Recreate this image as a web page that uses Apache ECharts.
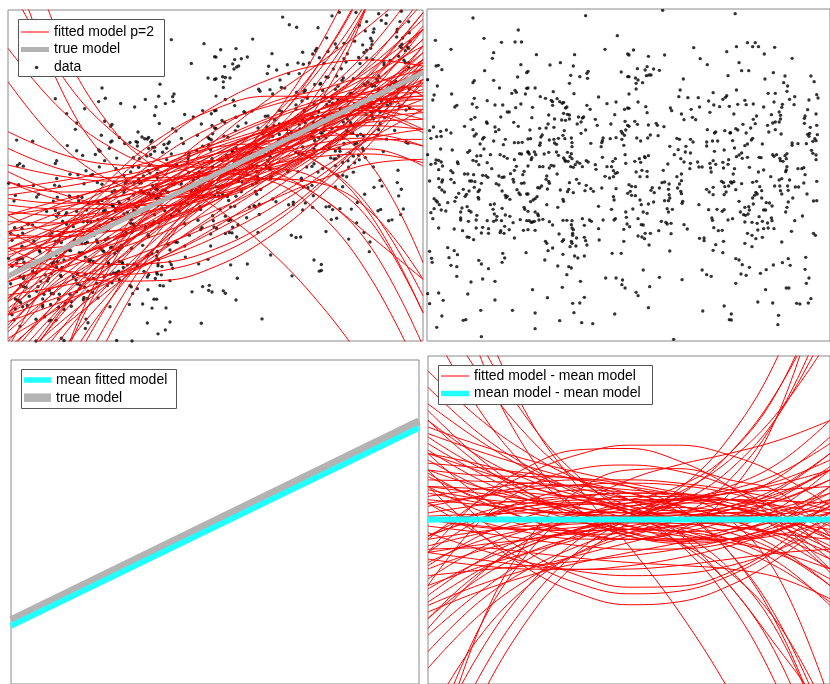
<!DOCTYPE html>
<html><head><meta charset="utf-8">
<script src="https://cdn.jsdelivr.net/npm/echarts@6/dist/echarts.min.js"></script>
<style>html,body{margin:0;padding:0;background:#fff}#c{width:830px;height:684px}</style>
</head><body><div id="c"></div>
<script>
// x domain ends (arbitrary units) and straight models read at both ends
const xEnds = [0, 1245];
const trueModel = [195, 805];
const meanModel = [178, 785];

// sample x positions of fitted curves and their residuals (fitted - mean)
const fitX = [0, 156, 311, 467, 622, 778, 934, 1089, 1245];
const fitResid = [
[300,193,120,71,40,26,30,58,120],[250,159,100,60,30,4,-20,-43,-60],[-250,-155,-80,-29,0,13,20,36,80],
[-300,-180,-100,-51,-20,5,40,99,200],[200,168,130,94,60,25,-20,-89,-200],[150,99,60,34,20,21,40,81,150],
[-150,-96,-60,-38,-30,-36,-60,-106,-180],[100,93,80,68,60,63,80,118,180],[-100,-121,-140,-151,-150,-139,-120,-101,-90],
[350,241,150,77,20,-29,-80,-148,-250],[-350,-222,-120,-44,10,53,100,173,300],[60,45,30,18,10,5,0,-9,-30],
[-60,-37,-20,-8,0,5,10,17,30],[180,100,40,-6,-40,-60,-60,-31,40],[-180,-89,-30,11,40,58,60,33,-40],
[120,116,110,101,90,76,60,41,20],[-120,-139,-150,-151,-140,-116,-80,-34,20],[400,262,160,84,30,-3,-10,19,100],
[-400,-251,-150,-80,-30,4,20,7,-50],[20,43,60,73,80,78,60,18,-60],[-20,-39,-60,-79,-90,-89,-70,-29,40],
[230,142,70,16,-20,-36,-30,-2,50],[-230,-126,-50,1,30,36,20,-21,-90],[80,51,20,-7,-30,-49,-70,-100,-150],
[-80,-43,-10,18,40,59,80,108,150],[280,226,180,142,110,81,50,9,-50],[-280,-219,-170,-131,-100,-71,-40,1,60],
[140,59,0,-39,-60,-59,-30,36,150],[-140,-51,10,49,70,69,40,-31,-160],[40,68,90,105,110,103,80,40,-20],
[-40,-90,-130,-157,-170,-165,-140,-90,-10],[330,188,80,1,-50,-72,-60,-6,100],[-330,-170,-60,11,50,60,40,-17,-120],
[170,157,140,121,100,74,40,-9,-80],[-170,-154,-140,-126,-110,-89,-60,-19,40],[90,63,50,46,50,63,90,141,230],
[-90,-86,-100,-117,-130,-139,-150,-177,-240],[210,122,60,20,0,2,30,92,200],[-210,-129,-70,-30,-10,-12,-40,-100,-200],
[10,16,20,21,20,16,10,4,0],[260,207,160,118,80,42,0,-52,-120],[-260,-199,-150,-108,-70,-32,10,59,120],
[70,92,110,120,120,110,90,62,30],[-50,3,40,59,60,41,0,-63,-150],[50,-4,-40,-59,-60,-41,0,66,160],
[450,308,200,119,60,21,0,-1,20],[-450,-292,-180,-102,-50,-17,0,3,-10],[130,66,30,13,10,24,60,130,250],
[-130,-66,-30,-13,-10,-23,-60,-133,-260],[0,-19,-30,-34,-30,-19,0,26,60],[-100,58,160,211,215,177,100,-10,-150],
[-60,55,140,197,225,225,195,134,40],[100,-39,-150,-224,-258,-249,-200,-114,0],[50,-43,-130,-194,-225,-217,-170,-88,20],
[150,6,-100,-170,-205,-202,-160,-74,60],[-200,-10,100,153,165,146,100,21,-100],[-100,-77,-60,-39,0,73,200,401,700],
[-200,-145,-100,-57,0,93,250,505,900],[0,-23,-30,-23,0,52,150,322,600],[100,28,-20,-45,-40,8,120,323,650],
[-300,-163,-80,-27,20,82,180,331,550],[200,74,0,-44,-60,-31,80,331,800],[-50,1,30,45,60,101,200,400,750],
[100,80,60,37,0,-70,-200,-428,-800],[200,148,100,60,20,-40,-150,-352,-700],[0,13,40,51,20,-74,-250,-522,-900],
[-100,-2,60,89,80,23,-100,-314,-650],[300,169,80,23,-20,-71,-160,-322,-600],[50,70,100,104,60,-43,-200,-396,-600],
[150,134,130,125,100,34,-100,-333,-700],[-50,19,50,69,80,69,0,-181,-550],[900,550,300,129,20,-40,-60,-46,0],
[700,443,250,119,40,0,-20,-44,-100],[-800,-481,-250,-94,0,46,60,56,50],[-700,-410,-200,-60,20,50,40,0,-60],
[1000,508,200,28,-50,-65,-40,10,80],[600,336,150,29,-40,-66,-60,-29,20],[-600,-360,-200,-100,-40,-3,30,75,150],
[-900,-555,-300,-123,-10,52,80,90,100],[1200,650,310,95,-80,-280,-520,-800,-1100],[-700,-334,-100,41,120,166,200,241,300],
[-800,-338,-60,89,150,154,120,81,-50]
];

// data points: [x, residual from true model]
const residualPoints = [
[142,462],[282,426],[26,395],[176,401],[230,389],[272,390],[292,390],[74,368],[206,358],[202,341],[290,322],[28,318],[35,320],[46,307],[178,304],[308,298],[2,277],[280,285],[206,275],[146,274],[142,268],[32,258],[224,252],[308,251],[272,245],[276,239],[262,236],[304,234],[22,231],[76,234],[18,216],[146,221],[186,214],[140,204],[92,200],[86,195],[154,194],[210,201],[234,201],[290,204],[274,193],[248,180],[254,180],[228,165],[148,164],[136,158],[184,150],[268,149],[282,137],[186,146],[20,135],[8,124],[60,126],[74,117],[42,122],[116,137],[142,127],[210,135],[222,127],[212,121],[152,114],[146,108],[30,106],[44,107],[12,101],[176,104],[172,99],[270,88],[282,88],[294,89],[242,98],[236,82],[206,93],[164,84],[132,64],[126,59],[78,66],[176,69],[42,69],[2,52],[196,52],[226,52],[238,47],[248,41],[286,55],[292,54],[312,60],[154,48],[166,49],[142,35],[152,32],[160,22],[36,35],[44,30],[28,36],[12,23],[26,26],[48,18],[94,30],[96,25],[186,28],[270,37],[276,17],[36,7],[74,4],[80,-2],[116,-6],[126,-6],[144,-8],[200,10],[258,-5],[270,5],[300,2],[296,-8],[172,-10],[182,-11],[188,-16],[222,-12],[232,-16],[238,-15],[8,-27],[36,-20],[48,-24],[46,-30],[74,-22],[84,-32],[132,-27],[138,-27],[148,-29],[168,-34],[266,-22],[268,-30],[292,-34],[300,-33],[214,-35],[222,-39],[38,-46],[46,-54],[54,-60],[112,-52],[130,-57],[146,-46],[162,-54],[158,-59],[232,-57],[278,-53],[284,-63],[288,-68],[242,-70],[248,-73],[244,-77],[256,-82],[308,-66],[98,-64],[90,-76],[86,-88],[122,-67],[118,-73],[158,-76],[160,-81],[22,-80],[28,-86],[32,-90],[38,-98],[64,-92],[196,-98],[208,-96],[204,-112],[232,-109],[300,-106],[302,-112],[22,-110],[12,-122],[44,-114],[58,-117],[108,-108],[104,-120],[124,-104],[130,-116],[136,-120],[154,-130],[208,-126],[216,-133],[242,-129],[256,-133],[18,-140],[104,-138],[104,-144],[128,-148],[152,-144],[186,-146],[214,-144],[206,-148],[230,-146],[288,-143],[308,-146],[266,-152],[240,-163],[254,-173],[152,-168],[172,-166],[190,-170],[228,-176],[238,-184],[226,-182],[298,-175],[36,-168],[84,-171],[110,-176],[168,-183],[190,-184],[270,-198],[124,-195],[130,-196],[144,-203],[8,-238],[14,-259],[16,-271],[64,-227],[84,-236],[94,-248],[68,-257],[234,-244],[240,-258],[232,-271],[306,-242],[160,-265],[168,-276],[74,-280],[92,-284],[190,-290],[92,-313],[136,-330],[172,-321],[210,-328],[2,-365],[36,-363],[8,-395],[50,-385],[126,-366],[210,-384],[166,-415],[264,-415],[46,-432],[112,-445],[120,-443],[30,-466],[168,-494],
[490,469],[588,409],[550,368],[338,352],[456,352],[620,354],[380,321],[412,328],[452,318],[312,302],[498,302],[494,296],[444,290],[472,286],[496,281],[600,300],[620,286],[440,266],[334,252],[312,252],[390,241],[454,235],[350,226],[366,221],[384,215],[388,211],[402,220],[410,211],[418,206],[422,209],[432,195],[428,192],[388,200],[530,225],[556,205],[584,210],[326,194],[494,200],[504,188],[610,188],[620,192],[422,176],[434,173],[440,171],[440,159],[376,171],[394,159],[374,144],[428,155],[416,156],[324,163],[468,165],[480,162],[484,165],[464,144],[476,150],[520,158],[526,140],[568,144],[580,172],[612,152],[620,140],[318,126],[348,131],[368,132],[392,134],[424,124],[476,116],[490,126],[600,122],[604,116],[610,110],[614,126],[356,111],[352,105],[312,99],[320,100],[420,110],[426,100],[446,102],[544,102],[542,94],[566,100],[540,88],[584,103],[602,98],[608,80],[350,87],[348,80],[378,96],[392,98],[394,87],[406,101],[400,83],[448,88],[448,76],[506,86],[538,76],[312,60],[316,54],[322,37],[324,43],[332,60],[336,52],[362,54],[376,59],[400,60],[406,50],[434,59],[446,55],[442,46],[422,42],[426,36],[428,32],[436,32],[448,40],[472,26],[464,30],[492,34],[498,30],[458,22],[520,22],[542,44],[582,40],[574,32],[612,52],[312,18],[348,16],[358,16],[384,20],[392,18],[402,-6],[378,12],[444,16],[452,14],[480,16],[522,8],[556,16],[570,16],[576,4],[582,-4],[588,-2],[614,26],[550,-13],[564,-18],[576,-14],[370,-12],[368,-22],[376,-28],[378,-34],[348,-48],[342,-47],[354,-42],[372,-51],[412,-54],[434,-59],[438,-52],[440,-32],[462,-22],[470,-34],[492,-40],[506,-50],[514,-58],[488,-56],[452,-62],[540,-48],[584,-50],[620,-64],[312,-66],[320,-89],[328,-84],[334,-80],[340,-74],[420,-82],[422,-88],[370,-98],[404,-106],[530,-103],[576,-74],[578,-84],[570,-112],[614,-120],[616,-136],[312,-118],[334,-120],[342,-126],[344,-131],[316,-146],[322,-151],[326,-150],[332,-148],[346,-144],[358,-142],[312,-173],[334,-175],[378,-149],[388,-159],[420,-145],[432,-145],[448,-146],[446,-158],[448,-168],[452,-173],[486,-160],[480,-140],[502,-144],[508,-148],[544,-144],[578,-144],[582,-140],[618,-156],[608,-172],[530,-170],[450,-184],[450,-190],[408,-186],[462,-198],[446,-208],[448,-214],[460,-222],[418,-208],[422,-203],[486,-196],[490,-206],[494,-219],[532,-204],[608,-208],[366,-208],[370,-214],[374,-236],[388,-228],[364,-264],[420,-247],[442,-224],[456,-252],[466,-258],[486,-252],[572,-244],[600,-244],[404,-282],[438,-284],[446,-288],[432,-308],[552,-318],[584,-318],[604,-324],[602,-338],[612,-348],[474,-328],[326,-353],[418,-346],[372,-377],[486,-376],[450,-394],[472,-393],[334,-423],[454,-422],[410,-446],[478,-452],[512,-455],[580,-426],[334,-470],
[728,485],[638,366],[624,351],[684,347],[734,351],[824,373],[926,361],[844,340],[866,322],[650,310],[674,306],[680,316],[700,309],[718,305],[678,289],[686,291],[692,291],[624,286],[644,282],[646,266],[646,249],[624,234],[652,276],[666,268],[792,279],[782,246],[930,289],[778,226],[806,223],[838,223],[870,213],[884,238],[886,201],[904,196],[914,218],[922,224],[926,229],[934,197],[652,210],[676,196],[680,178],[752,192],[756,184],[786,174],[794,157],[816,188],[820,164],[830,157],[842,195],[874,179],[624,191],[624,137],[642,152],[650,143],[684,141],[708,146],[712,140],[732,136],[866,127],[888,117],[892,120],[920,124],[936,117],[648,102],[660,93],[682,102],[690,111],[714,109],[772,101],[780,98],[814,98],[822,90],[864,90],[864,78],[882,93],[898,93],[750,77],[776,67],[800,77],[888,62],[918,66],[642,32],[656,40],[660,29],[672,46],[684,49],[674,43],[764,52],[784,40],[798,60],[814,57],[794,30],[814,26],[812,10],[836,30],[840,15],[850,15],[874,26],[884,34],[876,12],[892,23],[878,0],[914,29],[916,12],[932,37],[930,23],[646,0],[664,5],[680,2],[730,5],[658,-14],[680,-14],[744,24],[772,-14],[786,-6],[624,-38],[632,-43],[644,-44],[628,-58],[632,-70],[644,-71],[658,-84],[696,-47],[692,-55],[702,-62],[718,-48],[726,-32],[734,-30],[748,-36],[746,-52],[748,-68],[774,-48],[780,-36],[786,-26],[784,-58],[786,-65],[864,-52],[872,-60],[884,-46],[884,-68],[910,-28],[916,-32],[920,-44],[924,-60],[918,-68],[932,-42],[662,-98],[684,-96],[700,-90],[734,-86],[746,-86],[750,-78],[790,-88],[788,-94],[668,-120],[636,-111],[680,-124],[742,-110],[746,-120],[758,-112],[840,-98],[870,-113],[896,-112],[912,-118],[918,-113],[880,-138],[882,-145],[652,-140],[662,-158],[668,-159],[724,-148],[738,-151],[742,-156],[754,-154],[794,-158],[804,-171],[930,-144],[626,-164],[652,-192],[664,-195],[672,-200],[674,-184],[690,-184],[716,-176],[754,-185],[886,-167],[900,-176],[912,-175],[686,-219],[842,-199],[856,-198],[856,-206],[892,-218],[884,-235],[916,-208],[914,-242],[750,-237],[668,-294],[718,-316],[788,-323],[850,-294],[864,-308],[878,-313],[646,-361],[652,-371],[688,-344],[684,-407],[852,-417],[918,-402],[934,-443],[762,-502],
[952,475],[956,376],[990,388],[1006,376],[1014,388],[1024,376],[1074,374],[1042,354],[1128,341],[964,328],[972,304],[994,304],[1070,298],[1044,279],[1106,288],[1102,268],[1114,258],[1186,288],[1196,271],[956,246],[1112,242],[1076,236],[1054,236],[1120,218],[1136,226],[1180,216],[1204,232],[1208,222],[960,203],[982,215],[986,202],[1008,204],[1040,195],[1098,203],[1096,194],[1134,202],[1072,210],[948,174],[1008,158],[1018,168],[1064,172],[1088,180],[1092,170],[1092,159],[1168,168],[1166,161],[1202,174],[1176,187],[954,130],[960,126],[938,118],[976,143],[986,117],[1000,132],[1014,145],[1052,140],[1056,120],[1068,147],[1076,150],[1076,127],[1088,150],[1094,114],[1166,146],[1184,134],[1182,116],[1180,107],[1176,113],[1204,140],[1206,112],[944,94],[982,79],[990,84],[1002,96],[1006,101],[1036,84],[1128,87],[1128,80],[1146,85],[1172,85],[1192,92],[1198,100],[1202,94],[950,72],[964,51],[974,41],[956,46],[990,44],[972,57],[1026,44],[1032,43],[1068,52],[1072,47],[1080,52],[1090,41],[1092,34],[1100,32],[1112,55],[1106,49],[1110,40],[1188,65],[1192,56],[1202,51],[1202,37],[1146,10],[1158,10],[1164,13],[1168,-8],[1112,16],[1110,6],[1108,1],[996,14],[1024,0],[1040,6],[950,10],[946,-6],[938,-30],[942,-33],[948,-29],[954,-53],[972,-35],[1006,-31],[1018,-28],[1028,-44],[1016,-61],[1012,-70],[1020,-66],[1034,-56],[1062,-14],[1088,-24],[1096,-20],[1120,-24],[1074,-42],[1090,-42],[1092,-56],[1096,-66],[1114,-42],[1116,-55],[1130,-78],[1138,-45],[1148,-45],[1164,-33],[1174,-66],[1204,-28],[1194,-87],[1204,-86],[964,-88],[982,-106],[994,-104],[1008,-96],[1006,-78],[1034,-78],[1048,-92],[1058,-93],[1066,-102],[1046,-114],[1040,-114],[1116,-90],[1112,-106],[1108,-120],[968,-120],[978,-128],[984,-130],[996,-114],[992,-126],[944,-140],[982,-150],[1004,-151],[1026,-134],[1020,-154],[1036,-148],[1052,-153],[1066,-146],[1064,-138],[1160,-132],[1136,-146],[990,-184],[1004,-190],[1016,-200],[1036,-196],[1022,-174],[1040,-170],[1054,-168],[1072,-170],[1194,-184],[1200,-190],[1126,-178],[982,-214],[1004,-224],[1096,-210],[954,-260],[964,-264],[974,-278],[996,-286],[970,-306],[986,-310],[1030,-304],[1048,-293],[1070,-279],[1098,-272],[1116,-260],[1122,-280],[1170,-256],[1168,-292],[1180,-318],[1172,-334],[954,-334],[1046,-353],[1110,-348],[1118,-348],[1022,-390],[1068,-393],[1142,-394],[1152,-396],[1178,-393],[1186,-380],[940,-426],[940,-444],[1086,-430],[1084,-458]
];

// legend labels
const labels = {
  fit: 'fitted model p=2', truth: 'true model', data: 'data',
  meanFit: 'mean fitted model', fitMinusMean: 'fitted model - mean model', meanMinusMean: 'mean model - mean model'
};

function lineAt(ends, x) {
  return ends[0] + (ends[1] - ends[0]) * (x - xEnds[0]) / (xEnds[1] - xEnds[0]);
}

const RED = '#ff0000', GRAY = '#b3b3b3', CYAN = '#22ffff';
const FONT = 'Liberation Sans, Arial, Helvetica, sans-serif';

const series = [];
fitResid.forEach(function (c) {
  series.push({
    type: 'line', name: labels.fit, xAxisIndex: 0, yAxisIndex: 0,
    data: fitX.map(function (x, i) { return [x, lineAt(meanModel, x) + c[i]]; }),
    smooth: 0.4, symbol: 'none', silent: true, color: RED,
    lineStyle: { width: 1, color: RED }
  });
});
series.push({
  type: 'line', name: labels.truth, xAxisIndex: 0, yAxisIndex: 0,
  data: xEnds.map(function (x, i) { return [x, trueModel[i]]; }),
  symbol: 'none', silent: true, color: GRAY, lineStyle: { width: 5, color: GRAY }
});
series.push({
  type: 'scatter', name: labels.data, xAxisIndex: 0, yAxisIndex: 0,
  data: residualPoints.map(function (p) { return [p[0], lineAt(trueModel, p[0]) + p[1]]; }),
  symbolSize: 3.4, silent: true, itemStyle: { color: '#000' }
});
series.push({
  type: 'scatter', name: 'residual', xAxisIndex: 1, yAxisIndex: 1,
  data: residualPoints.map(function (p) { return [p[0], p[1]]; }),
  symbolSize: 3.4, silent: true, itemStyle: { color: '#000' }
});
series.push({
  type: 'line', name: labels.truth, xAxisIndex: 2, yAxisIndex: 2,
  data: xEnds.map(function (x, i) { return [x, trueModel[i]]; }),
  symbol: 'none', silent: true, color: GRAY, lineStyle: { width: 8, color: GRAY }
});
series.push({
  type: 'line', name: labels.meanFit, xAxisIndex: 2, yAxisIndex: 2,
  data: xEnds.map(function (x, i) { return [x, meanModel[i]]; }),
  symbol: 'none', silent: true, color: CYAN, lineStyle: { width: 6, color: CYAN }
});
fitResid.forEach(function (c) {
  series.push({
    type: 'line', name: labels.fitMinusMean, xAxisIndex: 3, yAxisIndex: 3,
    data: fitX.map(function (x, i) { return [x, c[i]]; }),
    smooth: 0.4, symbol: 'none', silent: true, color: RED,
    lineStyle: { width: 1, color: RED }
  });
});
series.push({
  type: 'line', name: labels.meanMinusMean, xAxisIndex: 3, yAxisIndex: 3,
  data: xEnds.map(function (x, i) { return [x, meanModel[i] - meanModel[i]]; }),
  symbol: 'none', silent: true, color: CYAN, lineStyle: { width: 6, color: CYAN }
});

function leg(name, icon, color, left, top, w, h, textPad) {
  return {
    left: left, top: top, padding: 0, itemGap: 0, selectedMode: false,
    itemWidth: w, itemHeight: h, orient: 'vertical', z: 10,
    textStyle: { fontSize: 14, fontFamily: FONT, color: '#000', lineHeight: 16, padding: [0, 0, 0, textPad || 0] },
    data: [{ name: name, icon: icon, itemStyle: { color: color, borderWidth: 0 } }]
  };
}

const gridBase = { show: true, borderColor: '#8a8a8a', borderWidth: 1, backgroundColor: '#fff' };
const option = {
  animation: false,
  grid: [
    Object.assign({ left: 8, top: 10, width: 415, height: 331 }, gridBase),
    Object.assign({ left: 427, top: 9, width: 415, height: 332 }, gridBase),
    Object.assign({ left: 11, top: 360, width: 408, height: 326 }, gridBase),
    Object.assign({ left: 428, top: 356, width: 415, height: 331 }, gridBase)
  ],
  xAxis: [0, 1, 2, 3].map(function (g) {
    return { type: 'value', gridIndex: g, min: xEnds[0], max: xEnds[1], show: false };
  }),
  yAxis: [
    { type: 'value', gridIndex: 0, min: 0, max: 993, show: false },
    { type: 'value', gridIndex: 1, min: -507, max: 489, show: false },
    { type: 'value', gridIndex: 2, min: 0, max: 993, show: false },
    { type: 'value', gridIndex: 3, min: -498, max: 495, show: false }
  ],
  graphic: [
    { type: 'rect', z: 5, shape: { x: 18.5, y: 19.5, width: 146, height: 57 }, style: { fill: '#fff', stroke: '#555', lineWidth: 1 } },
    { type: 'rect', z: 5, shape: { x: 21.5, y: 369.5, width: 155, height: 39 }, style: { fill: '#fff', stroke: '#555', lineWidth: 1 } },
    { type: 'rect', z: 5, shape: { x: 438.5, y: 365.5, width: 214, height: 39 }, style: { fill: '#fff', stroke: '#555', lineWidth: 1 } }
  ],
  legend: [
    leg(labels.fit, 'rect', RED, 21, 24, 28, 1),
    leg(labels.truth, 'rect', GRAY, 21, 41.5, 28, 5),
    leg(labels.data, 'circle', '#000', 34.8, 59.5, 3.6, 3.6, 10.6),
    leg(labels.meanFit, 'rect', CYAN, 24, 372, 27, 5.5),
    leg(labels.truth, 'rect', GRAY, 24, 389.7, 27, 8.5),
    leg(labels.fitMinusMean, 'rect', RED, 441, 368, 28, 1),
    leg(labels.meanMinusMean, 'rect', CYAN, 441, 385.5, 28, 5.5)
  ],
  series: series
};

const chart = echarts.init(document.getElementById('c'), null, { renderer: 'canvas' });
chart.setOption(option);
</script>
</body></html>
